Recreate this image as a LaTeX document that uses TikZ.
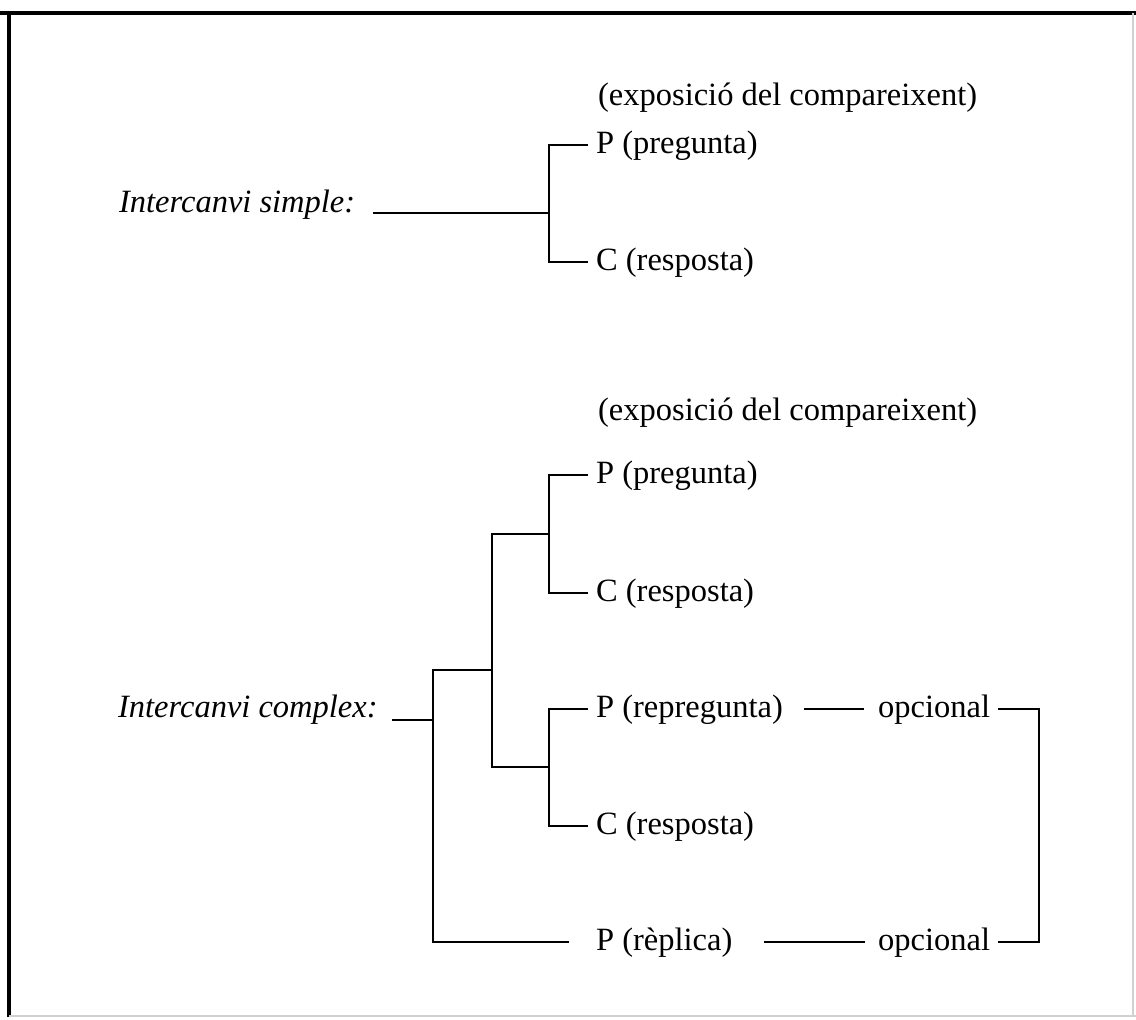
\documentclass[tikz,border=0pt]{standalone}
\usepackage{fontspec}
\setmainfont{Liberation Serif}
\begin{document}
\begin{tikzpicture}[x=0.5pt,y=-0.5pt,line width=1.1pt,line cap=rect,
  lbl/.style={anchor=base west,inner xsep=4pt,inner ysep=0pt,font=\fontsize{16.25}{18}\selectfont},
  opt/.style={anchor=base west,inner sep=0pt,font=\fontsize{16.25}{18}\selectfont},
  ital/.style={anchor=base west,inner sep=0pt,font=\fontsize{16.25}{18}\selectfont\itshape},
  frameline/.style={line width=2pt,line cap=butt},
  faint/.style={line width=0.8pt,black!18,line cap=butt}]
\useasboundingbox (0,0) rectangle (1136,1019);
% frame
\draw[frameline] (0,13) -- (1136,13);
\draw[frameline] (9,12) -- (9,1017);
\draw[faint] (9,1016) -- (1136,1016);
\draw[faint] (1133,13) -- (1133,1016);

% ---------- simple exchange ----------
\node[lbl] (exp1) at (589,105) {(exposició del compareixent)};
\node[lbl] (p1) at (587,153) {P (pregunta)};
\node[lbl] (c1) at (587,270) {C (resposta)};
\node[ital] (is) at (118,212) {Intercanvi simple:};
\coordinate (sRoot) at (374,213);
\coordinate (sJ) at (549,213);
\coordinate (sP) at (549,145);
\coordinate (sC) at (549,262);
\draw (sRoot) -- (sJ);
\draw (sP) -- (sC);
\draw (sP) -- (sP -| p1.west);
\draw (sC) -- (sC -| c1.west);

% ---------- complex exchange ----------
\node[lbl] (exp2) at (589,420) {(exposició del compareixent)};
\node[lbl] (p2) at (587,483) {P (pregunta)};
\node[lbl] (c2) at (587,601) {C (resposta)};
\node[lbl] (p3) at (587,717) {P (repregunta)};
\node[lbl] (c3) at (587,834) {C (resposta)};
\node[lbl] (p4) at (587,950) {P (rèplica)};
\node[ital] (ic) at (117,717) {Intercanvi complex:};
\node[opt] (o1) at (877,717) {opcional};
\node[opt] (o2) at (877,950) {opcional};

\coordinate (cRoot) at (393,720);
\coordinate (cA) at (433,720);
\coordinate (cAt) at (433,670);
\coordinate (cAb) at (433,942);
\coordinate (cBt) at (492,534);
\coordinate (cBm) at (492,670);
\coordinate (cBb) at (492,767);
\coordinate (cP2) at (549,475);
\coordinate (cJ1) at (549,534);
\coordinate (cC2) at (549,593);
\coordinate (cP3) at (549,709);
\coordinate (cJ2) at (549,767);
\coordinate (cC3) at (549,826);
\coordinate (rEnd) at (568,942);

\draw (cRoot) -- (cA);
\draw (cAt) -- (cAb);
\draw (cAt) -- (cBm);
\draw (cBt) -- (cBb);
\draw (cBt) -- (cJ1);
\draw (cBb) -- (cJ2);
\draw (cP2) -- (cC2);
\draw (cP3) -- (cC3);
\draw (cP2) -- (cP2 -| p2.west);
\draw (cC2) -- (cC2 -| c2.west);
\draw (cP3) -- (cP3 -| p3.west);
\draw (cC3) -- (cC3 -| c3.west);
\draw (cAb) -- (rEnd);

% optional dashes and bracket
\coordinate (d1a) at (805,709);
\coordinate (d1b) at (863,709);
\coordinate (d2a) at (765,942);
\coordinate (d2b) at (864,942);
\coordinate (e1) at (999,709);
\coordinate (e2) at (999,942);
\coordinate (bTop) at (1039,709);
\coordinate (bBot) at (1039,942);
\draw (d1a) -- (d1b);
\draw (d2a) -- (d2b);
\draw (e1) -- (bTop) -- (bBot) -- (e2);
\end{tikzpicture}
\end{document}
